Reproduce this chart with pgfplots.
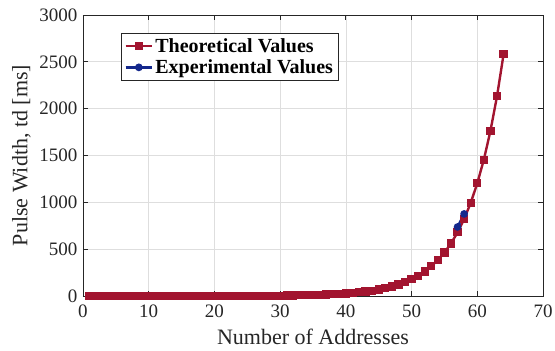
\documentclass[border=0pt]{standalone}
\usepackage{fontspec}
\setmainfont{Liberation Serif}
\usepackage{pgfplots}
\pgfplotsset{compat=1.18}

\definecolor{theo}{RGB}{162,20,47}
\definecolor{expc}{RGB}{20,40,140}
\definecolor{axgray}{RGB}{38,38,38}

\begin{document}
\begin{tikzpicture}
\useasboundingbox (-83bp,-55bp) rectangle (472bp,296bp);
\begin{axis}[
  at={(0,0)}, anchor=south west,
  scale only axis, width=460bp, height=281bp,
  xmin=0, xmax=70, ymin=0, ymax=3000,
  xtick={0,10,...,70}, ytick={0,500,...,3000},
  grid=major,
  major grid style={black!13, line width=0.7bp},
  axis line style={axgray, line width=0.8bp},
  tick style={axgray, line width=0.8bp},
  tick align=inside, major tick length=5bp,
  xtick pos=both, ytick pos=both,
  /pgf/number format/assume math mode=true,
  /pgf/number format/1000 sep={},
  scaled y ticks=false,
  ticklabel style={font=\fontsize{19bp}{22bp}\selectfont, text=axgray},
  x tick label style={yshift=-5bp},
  y tick label style={xshift=-2bp},
  label style={font=\fontsize{22bp}{26bp}\selectfont, text=axgray},
  xlabel={Number of Addresses},
  ylabel={Pulse Width, td [ms]},
  xlabel style={yshift=-5bp},
  ylabel style={yshift=2bp},
  legend style={
    at={(0.0826,0.936)}, anchor=north west,
    draw=axgray, line width=0.7bp, fill=white,
    font=\fontsize{20bp}{24bp}\selectfont\bfseries,
    inner xsep=3bp, inner ysep=3bp, row sep=2bp,
    cells={anchor=west},
  },
  legend image code/.code={
    \draw[mark repeat=2,mark phase=2] plot coordinates {(0cm,0cm) (0.47cm,0cm) (0.94cm,0cm)};
  },
]
\addplot[theo, line width=2.4bp, mark=square*, mark size=2.9bp,
         mark options={solid, fill=theo}]
coordinates {
(1,0.016) (2,0.019) (3,0.023) (4,0.028) (5,0.034) (6,0.041) (7,0.049) (8,0.060)
(9,0.072) (10,0.087) (11,0.11) (12,0.13) (13,0.15) (14,0.19) (15,0.23) (16,0.27)
(17,0.33) (18,0.40) (19,0.49) (20,0.59) (21,0.71) (22,0.86) (23,1.04) (24,1.26)
(25,1.52) (26,1.84) (27,2.23) (28,2.70) (29,3.27) (30,3.95) (31,4.78) (32,5.79)
(33,7.00) (34,8.47) (35,10.25) (36,12.41) (37,15.01) (38,18.16) (39,21.98) (40,26.59)
(41,32.18) (42,38.94) (43,47.11) (44,57.01) (45,68.98) (46,83.46) (47,101.0) (48,122.2)
(49,147.9) (50,178.9) (51,216.5) (52,261.9) (53,316.9) (54,383.5) (55,464.0) (56,561.5)
(57,679.4) (58,822.1) (59,994.7) (60,1204) (61,1456) (62,1762) (63,2132) (64,2580)
};
\addlegendentry{Theoretical Values}
\addplot[expc, line width=2.4bp, mark=*, mark size=2.6bp,
         mark options={solid, fill=expc}]
coordinates {(57,737) (58,876)};
\addlegendentry{Experimental Values}
\end{axis}
\end{tikzpicture}
\end{document}
